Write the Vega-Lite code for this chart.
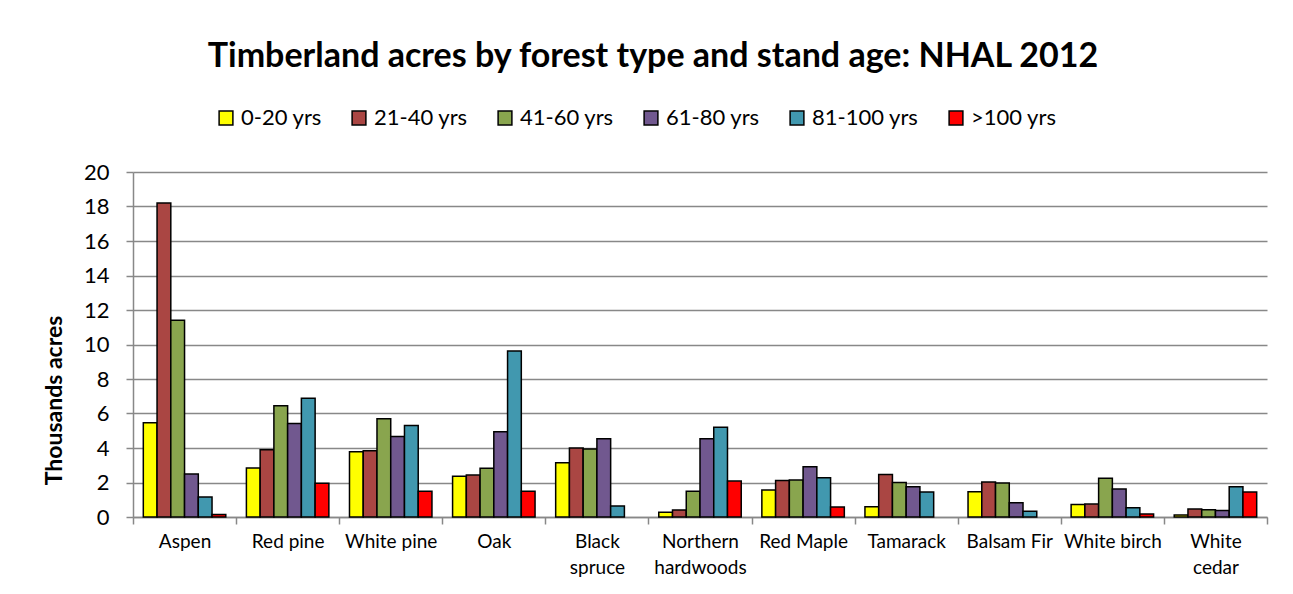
{
  "$schema": "https://vega.github.io/schema/vega-lite/v6.json",
  "autosize": {"type": "none"},
  "padding": {"left": 133, "top": 172, "right": 26, "bottom": 77},
  "width": 1134,
  "height": 345,
  "background": "white",
  "title": {
    "text": "Timberland acres by forest type and stand age: NHAL 2012",
    "font": "Lato",
    "fontSize": 34,
    "fontWeight": "bold",
    "color": "black",
    "anchor": "middle",
    "dx": -47,
    "offset": 33
  },
  "data": {
    "values": [
      {"type": "Aspen", "age": "0-20 yrs", "value": 5.46},
      {"type": "Aspen", "age": "21-40 yrs", "value": 18.2},
      {"type": "Aspen", "age": "41-60 yrs", "value": 11.41},
      {"type": "Aspen", "age": "61-80 yrs", "value": 2.49},
      {"type": "Aspen", "age": "81-100 yrs", "value": 1.16},
      {"type": "Aspen", "age": ">100 yrs", "value": 0.15},
      {"type": "Red pine", "age": "0-20 yrs", "value": 2.84},
      {"type": "Red pine", "age": "21-40 yrs", "value": 3.9},
      {"type": "Red pine", "age": "41-60 yrs", "value": 6.45},
      {"type": "Red pine", "age": "61-80 yrs", "value": 5.42},
      {"type": "Red pine", "age": "81-100 yrs", "value": 6.89},
      {"type": "Red pine", "age": ">100 yrs", "value": 1.95},
      {"type": "White pine", "age": "0-20 yrs", "value": 3.78},
      {"type": "White pine", "age": "21-40 yrs", "value": 3.84},
      {"type": "White pine", "age": "41-60 yrs", "value": 5.7},
      {"type": "White pine", "age": "61-80 yrs", "value": 4.67},
      {"type": "White pine", "age": "81-100 yrs", "value": 5.31},
      {"type": "White pine", "age": ">100 yrs", "value": 1.49},
      {"type": "Oak", "age": "0-20 yrs", "value": 2.36},
      {"type": "Oak", "age": "21-40 yrs", "value": 2.43},
      {"type": "Oak", "age": "41-60 yrs", "value": 2.82},
      {"type": "Oak", "age": "61-80 yrs", "value": 4.94},
      {"type": "Oak", "age": "81-100 yrs", "value": 9.63},
      {"type": "Oak", "age": ">100 yrs", "value": 1.49},
      {"type": "Black spruce", "age": "0-20 yrs", "value": 3.15},
      {"type": "Black spruce", "age": "21-40 yrs", "value": 4.0},
      {"type": "Black spruce", "age": "41-60 yrs", "value": 3.94},
      {"type": "Black spruce", "age": "61-80 yrs", "value": 4.54},
      {"type": "Black spruce", "age": "81-100 yrs", "value": 0.64},
      {"type": "Northern hardwoods", "age": "0-20 yrs", "value": 0.27},
      {"type": "Northern hardwoods", "age": "21-40 yrs", "value": 0.41},
      {"type": "Northern hardwoods", "age": "41-60 yrs", "value": 1.49},
      {"type": "Northern hardwoods", "age": "61-80 yrs", "value": 4.54},
      {"type": "Northern hardwoods", "age": "81-100 yrs", "value": 5.21},
      {"type": "Northern hardwoods", "age": ">100 yrs", "value": 2.08},
      {"type": "Red Maple", "age": "0-20 yrs", "value": 1.56},
      {"type": "Red Maple", "age": "21-40 yrs", "value": 2.12},
      {"type": "Red Maple", "age": "41-60 yrs", "value": 2.14},
      {"type": "Red Maple", "age": "61-80 yrs", "value": 2.92},
      {"type": "Red Maple", "age": "81-100 yrs", "value": 2.28},
      {"type": "Red Maple", "age": ">100 yrs", "value": 0.58},
      {"type": "Tamarack", "age": "0-20 yrs", "value": 0.6},
      {"type": "Tamarack", "age": "21-40 yrs", "value": 2.47},
      {"type": "Tamarack", "age": "41-60 yrs", "value": 2.0},
      {"type": "Tamarack", "age": "61-80 yrs", "value": 1.76},
      {"type": "Tamarack", "age": "81-100 yrs", "value": 1.45},
      {"type": "Balsam Fir", "age": "0-20 yrs", "value": 1.47},
      {"type": "Balsam Fir", "age": "21-40 yrs", "value": 2.03},
      {"type": "Balsam Fir", "age": "41-60 yrs", "value": 1.97},
      {"type": "Balsam Fir", "age": "61-80 yrs", "value": 0.83},
      {"type": "Balsam Fir", "age": "81-100 yrs", "value": 0.33},
      {"type": "White birch", "age": "0-20 yrs", "value": 0.73},
      {"type": "White birch", "age": "21-40 yrs", "value": 0.75},
      {"type": "White birch", "age": "41-60 yrs", "value": 2.24},
      {"type": "White birch", "age": "61-80 yrs", "value": 1.62},
      {"type": "White birch", "age": "81-100 yrs", "value": 0.54},
      {"type": "White birch", "age": ">100 yrs", "value": 0.17},
      {"type": "White cedar", "age": "0-20 yrs", "value": 0.12},
      {"type": "White cedar", "age": "21-40 yrs", "value": 0.46},
      {"type": "White cedar", "age": "41-60 yrs", "value": 0.42},
      {"type": "White cedar", "age": "61-80 yrs", "value": 0.37},
      {"type": "White cedar", "age": "81-100 yrs", "value": 1.76},
      {"type": "White cedar", "age": ">100 yrs", "value": 1.45}
    ]
  },
  "mark": {"type": "bar", "stroke": "black", "strokeWidth": 1.5},
  "encoding": {
    "x": {
      "field": "type",
      "type": "nominal",
      "sort": ["Aspen", "Red pine", "White pine", "Oak", "Black spruce", "Northern hardwoods", "Red Maple", "Tamarack", "Balsam Fir", "White birch", "White cedar"],
      "scale": {"paddingInner": 0, "paddingOuter": 0},
      "axis": {
        "title": null,
        "labelAngle": 0,
        "labelFont": "Lato",
        "labelFontSize": 19,
        "labelColor": "black",
        "labelPadding": 8,
        "labelLineHeight": 26,
        "labelBaseline": "top",
        "tickBand": "extent",
        "tickColor": "#888888",
        "tickSize": 7,
        "tickWidth": 1.5,
        "domainColor": "#888888",
        "domainWidth": 1.5,
        "labelExpr": "indexof(['Black spruce','Northern hardwoods','White cedar'], datum.label) >= 0 ? split(datum.label, ' ') : datum.label"
      }
    },
    "xOffset": {
      "field": "age",
      "type": "nominal",
      "sort": ["0-20 yrs", "21-40 yrs", "41-60 yrs", "61-80 yrs", "81-100 yrs", ">100 yrs"],
      "scale": {"paddingInner": 0, "paddingOuter": 0.75}
    },
    "y": {
      "field": "value",
      "type": "quantitative",
      "scale": {"domain": [0, 20], "nice": false},
      "axis": {
        "title": "Thousands acres",
        "titleFont": "Lato",
        "titleFontSize": 23,
        "titleFontWeight": "bold",
        "titleColor": "black",
        "titleX": -67,
        "titleY": 228,
        "values": [0, 2, 4, 6, 8, 10, 12, 14, 16, 18, 20],
        "labelFont": "Lato",
        "labelFontSize": 22,
        "labelColor": "black",
        "labelPadding": 17,
        "tickColor": "#888888",
        "tickSize": 7,
        "tickWidth": 1.5,
        "gridColor": "#888888",
        "gridWidth": 1.5,
        "domainColor": "#888888",
        "domainWidth": 1.5
      }
    },
    "color": {
      "field": "age",
      "type": "nominal",
      "sort": ["0-20 yrs", "21-40 yrs", "41-60 yrs", "61-80 yrs", "81-100 yrs", ">100 yrs"],
      "scale": {
        "domain": ["0-20 yrs", "21-40 yrs", "41-60 yrs", "61-80 yrs", "81-100 yrs", ">100 yrs"],
        "range": ["#FFFF00", "#AA4643", "#89A54E", "#71588F", "#4198AF", "#FF0000"]
      },
      "legend": {
        "title": null,
        "orient": "none",
        "direction": "horizontal",
        "legendX": 82,
        "legendY": -65,
        "symbolType": "square",
        "symbolSize": 190,
        "symbolStrokeColor": "black",
        "symbolStrokeWidth": 1.5,
        "labelFont": "Lato",
        "labelFontSize": 22,
        "labelColor": "black",
        "columnPadding": 26,
        "labelOffset": 4
      }
    }
  },
  "config": {"view": {"stroke": null}}
}
